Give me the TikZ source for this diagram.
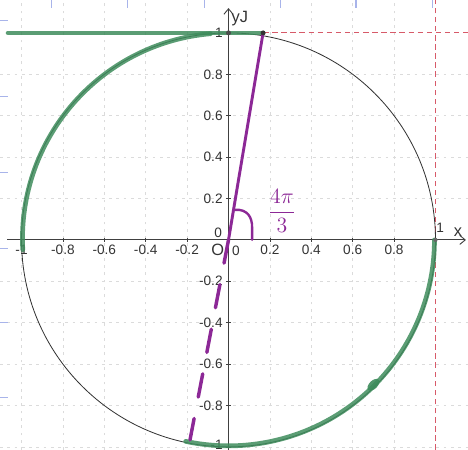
\documentclass[tikz,border=0pt]{standalone}
\usepackage{fontspec}
\setmainfont{Liberation Sans}
\usetikzlibrary{arrows.meta}
\definecolor{penGreen}{RGB}{62,140,92}
\definecolor{penPurple}{RGB}{140,40,150}
\definecolor{guideRed}{RGB}{215,90,105}
\definecolor{edgeBlue}{RGB}{110,130,220}

\begin{document}
\begin{tikzpicture}[x=4cm, y=4cm,
        gridline/.style={gray!28, dash pattern=on 1.5pt off 2.5pt, line width=0.3pt},
        axis/.style={black!75, line width=0.5pt, -{Straight Barb[length=3pt, width=5pt]}},
        ticklbl/.style={font=\fontsize{7.5}{9}\selectfont, text=black!80, inner sep=1pt},
        guide/.style={guideRed, dash pattern=on 3pt off 2pt, line width=0.6pt},
        marker/.style={penGreen, opacity=0.85, line width=2.6pt, line cap=round},
        pen/.style={penPurple, line width=1.6pt, line cap=round},
        edgemark/.style={edgeBlue!60, line width=0.6pt}
    ]
    \useasboundingbox (-1.104,-1.014) rectangle (1.157,1.159);

    % Grid
    \foreach \g in {-1.0,-0.8,-0.6,-0.4,-0.2,0.2,0.4,0.6,0.8} {
        \draw[gridline] (\g,-1.014) -- (\g,1.159);
        \draw[gridline] (-1.104,\g) -- (1.157,\g);
    }

    % Edge marks of the sheet
    \foreach \m in {-0.853,-0.486,-0.118,0.249,0.616,0.984}
        \draw[edgemark] (\m,1.159) -- (\m,1.122);
    \foreach \m in {1.058,0.691,0.324,-0.04,-0.401,-0.763}
        \draw[edgemark] (-1.104,\m) -- (-1.067,\m);

    % Guides
    \coordinate (O) at (0,0);
    \coordinate (P) at (0.167,1);
    \coordinate (Q) at (-0.186,-0.966);
    \draw[guide] (P) -- (1.157,1);
    \draw[guide] (1.002,-1.014) -- (1.002,1.159);

    % Unit circle and axes
    \draw[black!80, line width=0.45pt] (O) circle (1);
    \draw[axis] (-1.07,0) -- (1.147,0);
    \draw[axis] (0,-1.014) -- (0,1.12);
    \foreach \t in {-1.0,-0.8,-0.6,-0.4,-0.2,0.2,0.4,0.6,0.8,1.0} {
        \draw[black!75, line width=0.4pt] (\t,-0.01) -- (\t,0.01);
        \draw[black!75, line width=0.4pt] (-0.01,\t) -- (0.01,\t);
    }

    % Tick labels
    \foreach \v in {-1,-0.8,-0.6,-0.4,-0.2,0.2,0.4,0.6,0.8}
        \node[ticklbl] at (\v,-0.048) {\v};
    \foreach \v in {-0.8,-0.6,-0.4,-0.2,0.2,0.4,0.6,0.8,1}
        \node[ticklbl, anchor=east] at (-0.018,\v) {\v};
    \node[ticklbl, anchor=east] (ymin) at (-0.018,-0.99) {-1};
    \node[ticklbl] (xone) at (1.022,0.058) {1};
    \node[ticklbl] (yzero) at (-0.05,0.034) {0};
    \node[ticklbl] (xzero) at (0.036,-0.053) {0};
    \node[ticklbl, font=\fontsize{9}{10}\selectfont] (orig) at (-0.052,-0.05) {O};
    \node[ticklbl, font=\fontsize{9}{10}\selectfont] (xlbl) at (1.109,0.039) {x};
    \node[ticklbl, font=\fontsize{9}{10}\selectfont] (ylbl) at (0.055,1.07) {yJ};

    % Green pen marks
    \draw[marker] (-1.065,1) -- (P);
    \draw[marker] (95:1) arc (95:183:0.995);
    \draw[marker] (258:0.995) arc (258:360:0.995);
    \fill[penGreen, opacity=0.9, rotate around={45:(0.70,-0.70)}] (0.70,-0.70) ellipse (0.035 and 0.02);
    \fill[black!70] (0,1) circle (0.012);
    \fill[black!60] (1,0) circle (0.01);

    % Purple pen marks
    \draw[pen] (P) -- (O);
    \fill[black!80] (P) circle (0.012);
    \draw[pen, line width=1.9pt, dash pattern=on 13pt off 12pt] (O) -- (Q);
    \draw[pen, line width=1.3pt] (0.032,0.145) .. controls (0.09,0.15) and (0.115,0.11) .. (0.114,0.06) -- (0.114,0);
    \node[text=penPurple, font=\large] (angle) at (0.258,0.14) {$\displaystyle\frac{4\pi}{3}$};

\end{tikzpicture}
\end{document}
